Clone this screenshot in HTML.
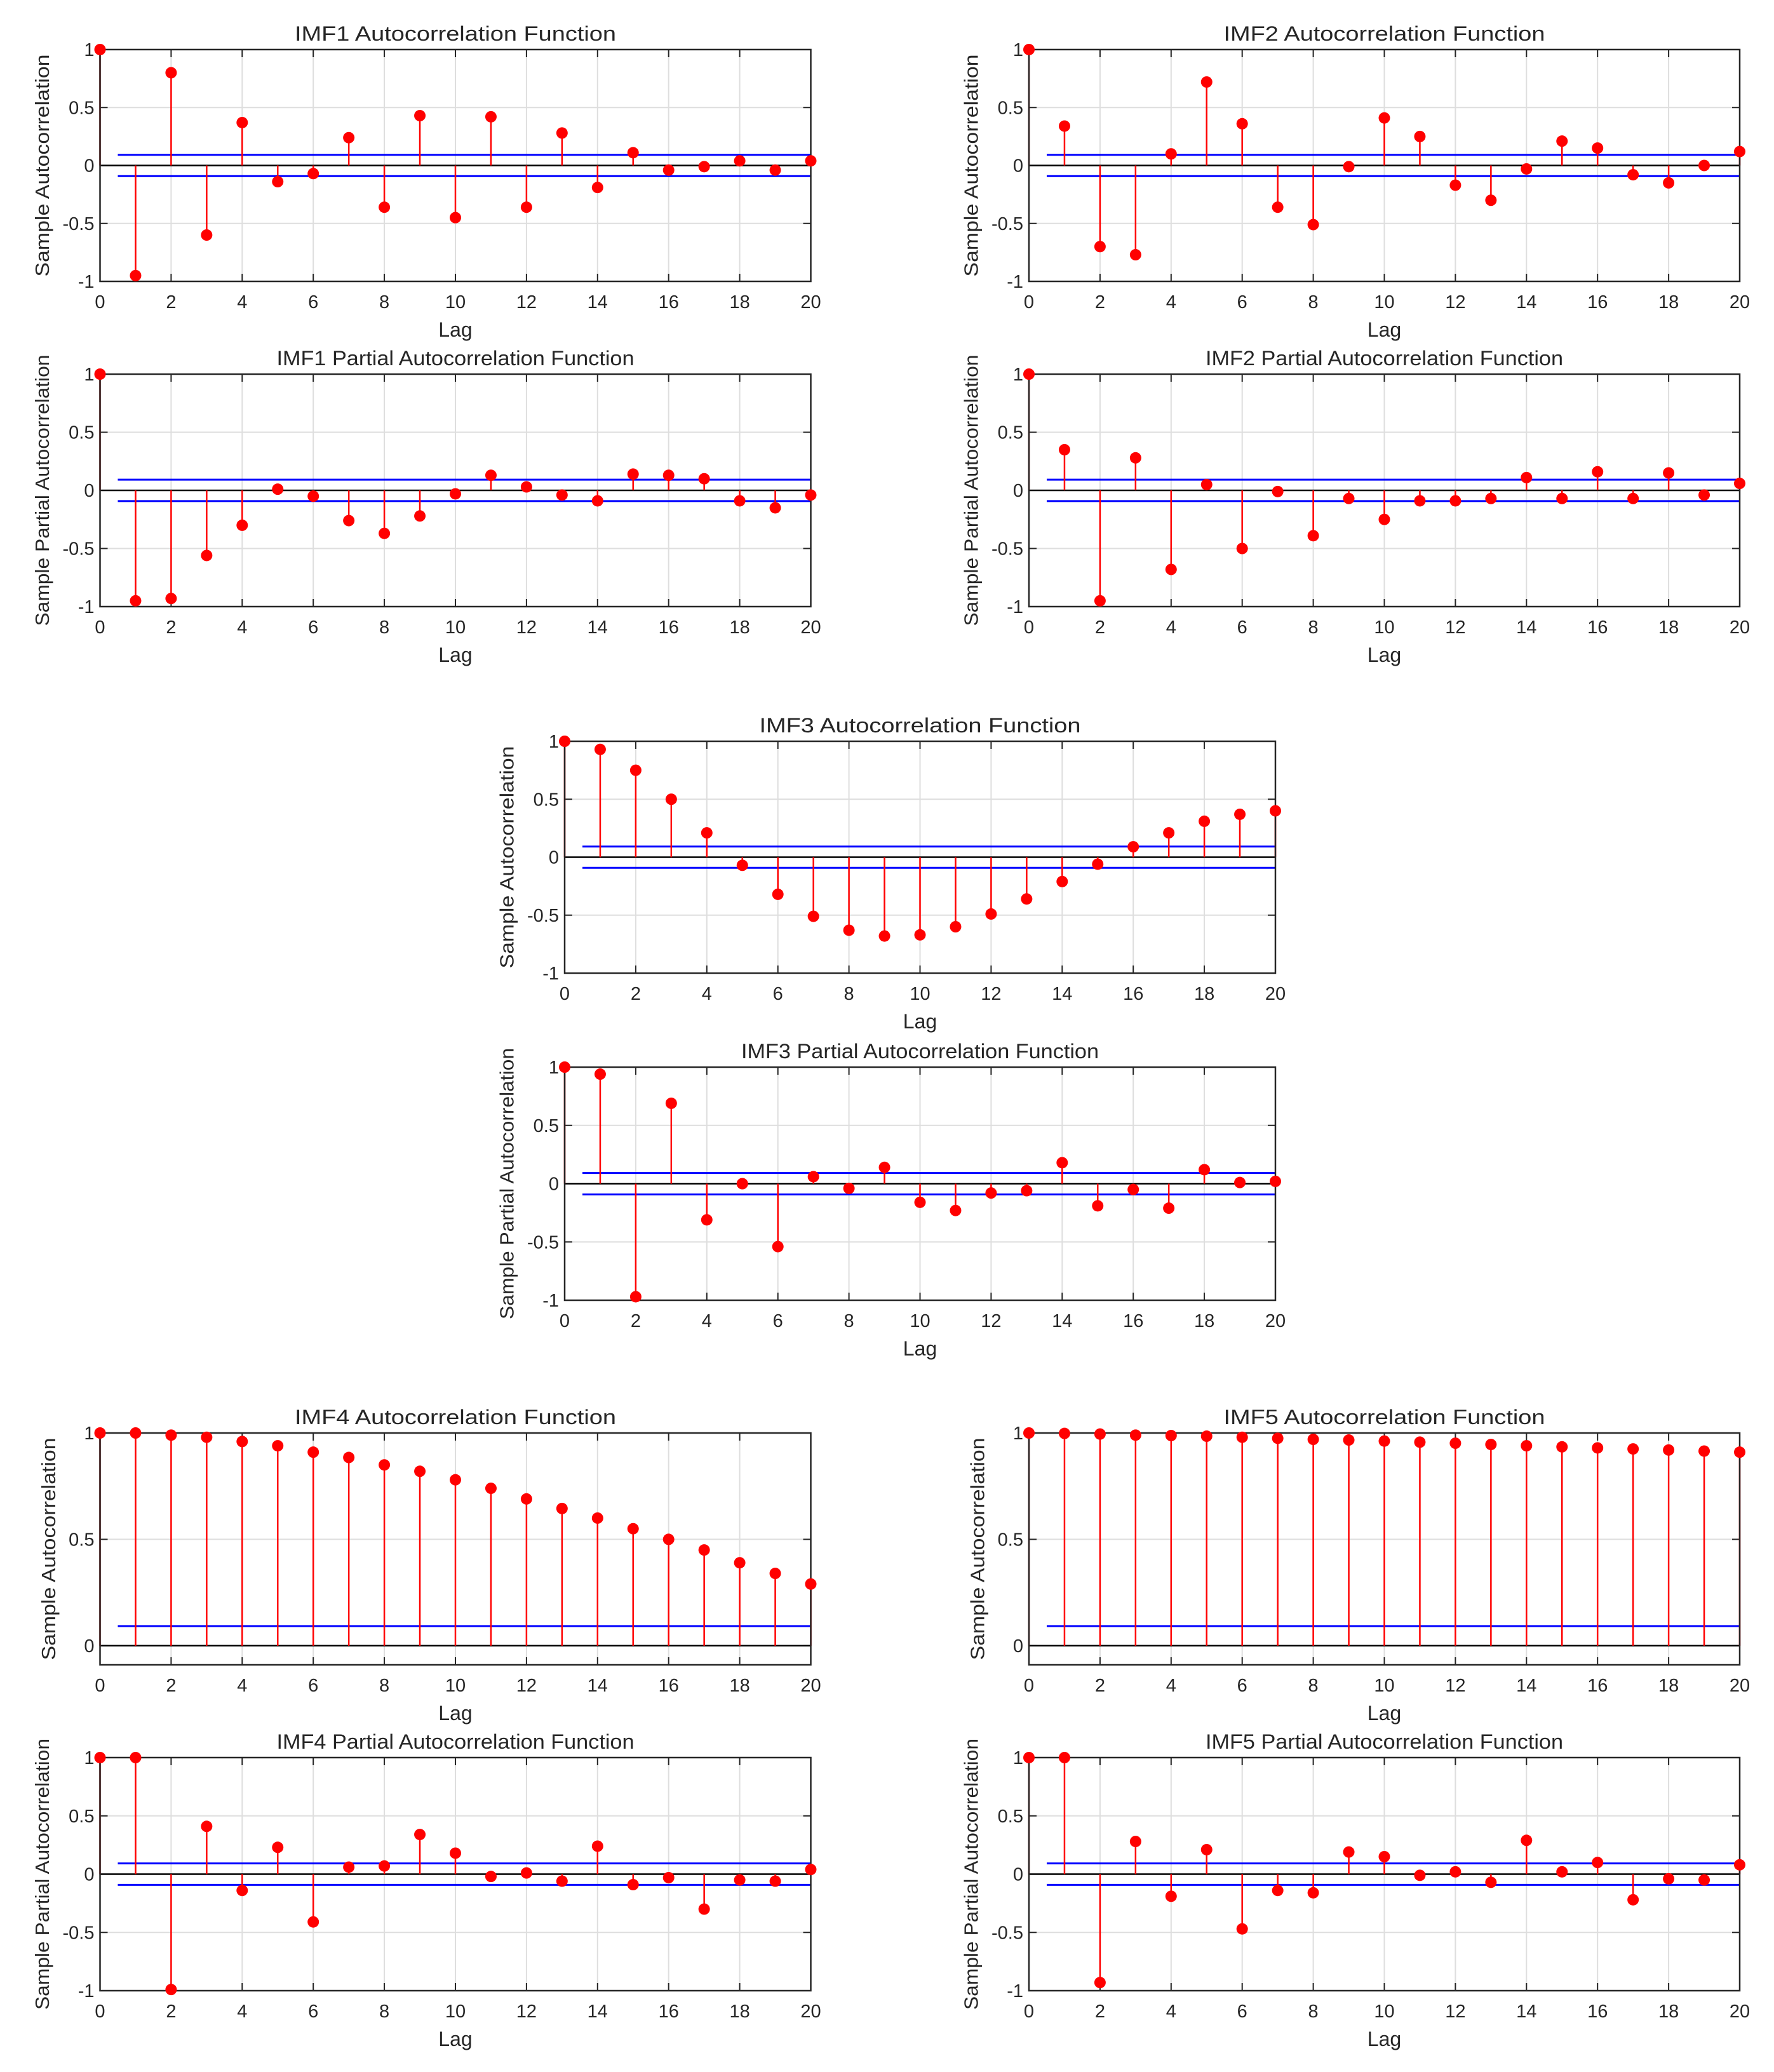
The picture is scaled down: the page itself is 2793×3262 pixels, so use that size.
<!DOCTYPE html>
<html><head><meta charset="utf-8">
<style>
html,body{margin:0;padding:0;background:#fff;}
svg{display:block;}
text{font-family:"Liberation Sans",Arial,sans-serif;fill:#262626;}
</style></head>
<body>
<svg id="fig" xmlns="http://www.w3.org/2000/svg" width="2793" height="3262" viewBox="0 0 2793 3262"></svg>
<script>
// ---- data (lags 0..20) ----
const lags = [0,1,2,3,4,5,6,7,8,9,10,11,12,13,14,15,16,17,18,19,20];
const imf1Acf  = [1,-0.95,0.80,-0.60,0.37,-0.14,-0.07,0.24,-0.36,0.43,-0.45,0.42,-0.36,0.28,-0.19,0.11,-0.04,-0.01,0.04,-0.04,0.04];
const imf1Pacf = [1,-0.95,-0.93,-0.56,-0.30,0.01,-0.05,-0.26,-0.37,-0.22,-0.03,0.13,0.03,-0.04,-0.09,0.14,0.13,0.10,-0.09,-0.15,-0.04];
const imf2Acf  = [1,0.34,-0.70,-0.77,0.10,0.72,0.36,-0.36,-0.51,-0.01,0.41,0.25,-0.17,-0.30,-0.03,0.21,0.15,-0.08,-0.15,0.00,0.12];
const imf2Pacf = [1,0.35,-0.95,0.28,-0.68,0.05,-0.50,-0.01,-0.39,-0.07,-0.25,-0.09,-0.09,-0.07,0.11,-0.07,0.16,-0.07,0.15,-0.04,0.06];
const imf3Acf  = [1,0.93,0.75,0.50,0.21,-0.07,-0.32,-0.51,-0.63,-0.68,-0.67,-0.60,-0.49,-0.36,-0.21,-0.06,0.09,0.21,0.31,0.37,0.40];
const imf3Pacf = [1,0.94,-0.97,0.69,-0.31,0.00,-0.54,0.06,-0.04,0.14,-0.16,-0.23,-0.08,-0.06,0.18,-0.19,-0.05,-0.21,0.12,0.01,0.02];
const imf4Acf  = [1,1.0,0.99,0.98,0.96,0.94,0.91,0.885,0.85,0.82,0.78,0.74,0.69,0.645,0.60,0.55,0.50,0.45,0.39,0.34,0.29];
const imf4Pacf = [1,1.0,-0.99,0.41,-0.14,0.23,-0.41,0.06,0.07,0.34,0.18,-0.02,0.01,-0.06,0.24,-0.09,-0.03,-0.30,-0.05,-0.06,0.04];
const imf5Acf  = [1,0.998,0.995,0.99,0.988,0.985,0.98,0.975,0.97,0.967,0.962,0.957,0.952,0.946,0.94,0.935,0.93,0.925,0.92,0.915,0.91];
const imf5Pacf = [1,1.0,-0.93,0.28,-0.19,0.21,-0.47,-0.14,-0.16,0.19,0.15,-0.01,0.02,-0.07,0.29,0.02,0.10,-0.22,-0.04,-0.05,0.08];
const confBound = 0.092;
const xTicks = [0,2,4,6,8,10,12,14,16,18,20];
const yTicksFull = [-1,-0.5,0,0.5,1];
const yTicksPos = [0,0.5,1];

const NS = "http://www.w3.org/2000/svg";
const svg = document.getElementById('fig');
function mk(tag, attrs, parent){
  const e = document.createElementNS(NS, tag);
  for (const k in attrs) e.setAttribute(k, attrs[k]);
  (parent||svg).appendChild(e);
  return e;
}

const panels = [
  {id:'imf1-acf', title:'IMF1 Autocorrelation Function', ylab:'Sample Autocorrelation', vals:imf1Acf, x:157.5, y0:78, y1:443, lo:-1, titleW:506},
  {id:'imf1-pacf', title:'IMF1 Partial Autocorrelation Function', ylab:'Sample Partial Autocorrelation', vals:imf1Pacf, x:157.5, y0:589, y1:955, lo:-1, titleW:563},
  {id:'imf2-acf', title:'IMF2 Autocorrelation Function', ylab:'Sample Autocorrelation', vals:imf2Acf, x:1620, y0:78, y1:443, lo:-1, titleW:506},
  {id:'imf2-pacf', title:'IMF2 Partial Autocorrelation Function', ylab:'Sample Partial Autocorrelation', vals:imf2Pacf, x:1620, y0:589, y1:955, lo:-1, titleW:563},
  {id:'imf3-acf', title:'IMF3 Autocorrelation Function', ylab:'Sample Autocorrelation', vals:imf3Acf, x:889, y0:1167, y1:1532, lo:-1, titleW:506},
  {id:'imf3-pacf', title:'IMF3 Partial Autocorrelation Function', ylab:'Sample Partial Autocorrelation', vals:imf3Pacf, x:889, y0:1680, y1:2047, lo:-1, titleW:563},
  {id:'imf4-acf', title:'IMF4 Autocorrelation Function', ylab:'Sample Autocorrelation', vals:imf4Acf, x:157.5, y0:2256, y1:2621, lo:-0.09, titleW:506},
  {id:'imf4-pacf', title:'IMF4 Partial Autocorrelation Function', ylab:'Sample Partial Autocorrelation', vals:imf4Pacf, x:157.5, y0:2767, y1:3134, lo:-1, titleW:563},
  {id:'imf5-acf', title:'IMF5 Autocorrelation Function', ylab:'Sample Autocorrelation', vals:imf5Acf, x:1620, y0:2256, y1:2621, lo:-0.09, titleW:506},
  {id:'imf5-pacf', title:'IMF5 Partial Autocorrelation Function', ylab:'Sample Partial Autocorrelation', vals:imf5Pacf, x:1620, y0:2767, y1:3134, lo:-1, titleW:563}
];

panels.forEach(p => {
  const W = 1119;
  const g = mk('g', {});
  
  
  const X = v => p.x + (v/20)*W;
  const Y = v => p.y1 - (v - p.lo)/(1 - p.lo)*(p.y1 - p.y0);
  const yt = p.lo < -0.5 ? yTicksFull : yTicksPos;
  xTicks.forEach(t => {
    const l = mk('line',{x1:X(t),x2:X(t),y1:p.y0,y2:p.y1,stroke:'#dedede','stroke-width':2},g);
    
    
  });
  yt.forEach(t => {
    const l = mk('line',{x1:p.x,x2:p.x+W,y1:Y(t),y2:Y(t),stroke:'#dedede','stroke-width':2},g);
    
    
  });
  xTicks.forEach(t => {
    mk('line',{x1:X(t),x2:X(t),y1:p.y1,y2:p.y1-12,stroke:'#262626','stroke-width':2},g);
    mk('line',{x1:X(t),x2:X(t),y1:p.y0,y2:p.y0+12,stroke:'#262626','stroke-width':2},g);
    const tx = mk('text',{x:X(t),y:p.y1+42,'font-size':29,'text-anchor':'middle'},g);
    tx.textContent = String(t);
    
    
  });
  yt.forEach(t => {
    mk('line',{x1:p.x,x2:p.x+12,y1:Y(t),y2:Y(t),stroke:'#262626','stroke-width':2},g);
    mk('line',{x1:p.x+W,x2:p.x+W-12,y1:Y(t),y2:Y(t),stroke:'#262626','stroke-width':2},g);
    const tx = mk('text',{x:p.x-9,y:Y(t)+10,'font-size':29,'text-anchor':'end'},g);
    tx.textContent = String(t);
    
    
  });
  [confBound,-confBound].forEach(b => {
    if (b < p.lo) return;
    const l = mk('line',{x1:X(0.5),x2:X(20),y1:Y(b),y2:Y(b),stroke:'#0000ff','stroke-width':3},g);
    
    
  });
  const z = mk('line',{x1:p.x,x2:p.x+W,y1:Y(0),y2:Y(0),stroke:'#000','stroke-width':2.5},g);
  
  
  p.vals.forEach((v,i) => {
    const s = mk('line',{x1:X(lags[i]),x2:X(lags[i]),y1:Y(0),y2:Y(v),stroke:'#ff0000','stroke-width':2.5},g);
    
    
  });
  const bx = mk('rect',{x:p.x,y:p.y0,width:W,height:p.y1-p.y0,fill:'none',stroke:'#262626','stroke-width':2.5},g);
  
  
  p.vals.forEach((v,i) => {
    const c = mk('circle',{cx:X(lags[i]),cy:Y(v),r:9,fill:'#ff0000'},g);
    
    
  });
  const tt = mk('text',{x:p.x+W/2,y:p.y0-14,'font-size':32,'text-anchor':'middle',fill:'#000',textLength:p.titleW,lengthAdjust:'spacingAndGlyphs'},g);
  tt.textContent = p.title;
  
  
  const xl = mk('text',{x:p.x+W/2,y:p.y1+87,'font-size':32,'text-anchor':'middle'},g);
  xl.textContent = 'Lag';
  
  
  const isP = p.ylab.indexOf('Partial') >= 0;
  const cx = p.x - (p.lo < -0.5 ? 91 : 81);
  const cy = (p.y0+p.y1)/2;
  const yl = mk('text',{x:cx,y:cy,'font-size':31,'text-anchor':'middle','dominant-baseline':'central',transform:'rotate(-90 '+cx+' '+cy+')',textLength:isP?427:350,lengthAdjust:'spacingAndGlyphs'},g);
  yl.textContent = p.ylab;
  
  
});
</script>
</body></html>
